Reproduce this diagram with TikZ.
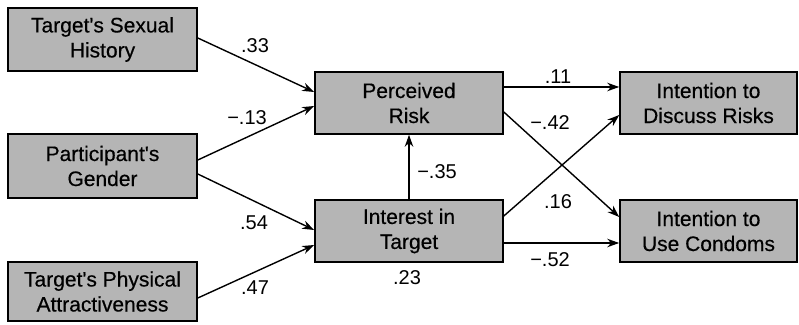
\documentclass[tikz,border=0pt]{standalone}
\usepackage{fontspec}
\setmainfont{Liberation Sans}
\newfontfamily\boxfont[FakeBold=0.4]{Liberation Sans}
\usetikzlibrary{arrows.meta}
\begin{document}
\begin{tikzpicture}[x=1pt,y=1pt,
  varbox/.style={draw=black, line width=1.6pt, fill=black!29,
    minimum height=62pt, inner sep=0pt, align=center,
    font=\boxfont\fontsize{21}{25}\selectfont},
  leftbox/.style={varbox, minimum width=189pt},
  midbox/.style={varbox, minimum width=188pt},
  rightbox/.style={varbox, minimum width=177pt},
  path/.style={line width=1.4pt, -{Stealth[length=12pt,width=8.5pt]}},
  coef/.style={font=\fontsize{20}{20}\selectfont, inner sep=0pt}
]
\useasboundingbox (0,0) rectangle (799,324);

% exogenous variables
\node[leftbox, minimum height=63pt] (sh) at (102.5,284.5) {Target\textquotesingle s Sexual\\History};
\node[leftbox, minimum height=64pt] (pg) at (102.5,158) {Participant\textquotesingle s\\Gender};
\node[leftbox, minimum height=59pt] (pa) at (102.5,32.5) {Target\textquotesingle s Physical\\Attractiveness};

% mediators
\node[midbox] (pr) at (409,221) {Perceived\\Risk};
\node[midbox] (it) at (409,93) {Interest in\\Target};

% outcomes
\node[rightbox] (dr) at (708.5,221) {Intention to\\Discuss Risks};
\node[rightbox] (uc) at (708.5,93) {Intention to\\Use Condoms};

% paths
\draw[path] ([yshift=1.5pt]sh.east) -- ([yshift=11pt]pr.west);
\draw[path] ([yshift=6pt]pg.east) -- ([yshift=-3pt]pr.west);
\draw[path] ([yshift=-8pt]pg.east) -- ([yshift=1pt]it.west);
\draw[path] ([yshift=-6.5pt]pa.east) -- ([yshift=-14pt]it.west);
\draw[path] (it.north) -- (pr.south);
\draw[path] ([yshift=16pt]pr.east) -- ([yshift=16pt]dr.west);
\draw[path] ([yshift=-9pt]pr.east) -- ([yshift=14pt]uc.west);
\draw[path] ([yshift=15pt]it.east) -- ([yshift=-12pt]dr.west);
\draw[path] ([yshift=-12pt]it.east) -- ([yshift=-12pt]uc.west);

% path coefficients
\node[coef] (c1) at (255,278) {.33};
\node[coef] (c2) at (247,206) {−.13};
\node[coef] (c3) at (254,101) {.54};
\node[coef] (c4) at (255,36) {.47};
\node[coef] (c5) at (407,46) {.23};
\node[coef] (c6) at (437,152) {−.35};
\node[coef] (c7) at (558,247) {.11};
\node[coef] (c8) at (550,201) {−.42};
\node[coef] (c9) at (558,122) {.16};
\node[coef] (c10) at (550,64) {−.52};
\end{tikzpicture}
\end{document}
